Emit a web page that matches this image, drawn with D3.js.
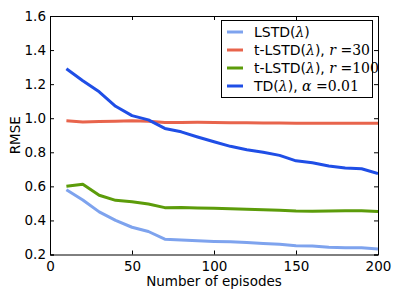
<!DOCTYPE html>
<html>
<head>
<meta charset="utf-8">
<script src="https://cdn.jsdelivr.net/npm/d3@7"></script>
<style>
body { margin: 0; background: #fff; }
text { font-family: "DejaVu Sans", sans-serif; }
</style>
</head>
<body>
<div class="chart"></div>
<script>
const episodes = [10,20,30,40,50,60,70,80,90,100,110,120,130,140,150,160,170,180,190,200]

const lstd = [0.58,0.52,0.45,0.40,0.36,0.335,0.29,0.285,0.28,0.277,0.275,0.27,0.265,0.26,0.252,0.25,0.242,0.24,0.24,0.232]
const tlstd30 = [0.985,0.978,0.98,0.982,0.985,0.982,0.975,0.975,0.976,0.975,0.974,0.973,0.972,0.972,0.971,0.971,0.97,0.97,0.97,0.97]
const tlstd100 = [0.60,0.612,0.548,0.518,0.51,0.496,0.475,0.476,0.473,0.472,0.468,0.466,0.462,0.46,0.455,0.454,0.456,0.457,0.457,0.453]
const td = [1.29,1.22,1.155,1.07,1.015,0.99,0.94,0.92,0.89,0.862,0.835,0.815,0.8,0.782,0.75,0.738,0.72,0.708,0.703,0.675]

const xTicks = [0,50,100,150,200]
const yTicks = [0.2,0.4,0.6,0.8,1.0,1.2,1.4,1.6]

// legend label pieces: [text, isMath]
const series = [
  {label: [["LSTD(", 0], ["λ", 1], [")", 0]], values: lstd, color: "#7ea3ee"},
  {label: [["t-LSTD(", 0], ["λ", 1], ["), ", 0], ["r", 1], [" =30", 2]], values: tlstd30, color: "#e8644c"},
  {label: [["t-LSTD(", 0], ["λ", 1], ["), ", 0], ["r", 1], [" =100", 2]], values: tlstd100, color: "#5c9c0a"},
  {label: [["TD(", 0], ["λ", 1], ["), ", 0], ["α", 1], [" =0.01", 2]], values: td, color: "#1f4ee6"}
]

let width = 399, height = 299
let margin = {left: 50, right: 21, top: 16, bottom: 44.5}

let svg = d3.select(".chart").append("svg")
.attr("width", width)
.attr("height", height)

let x = d3.scaleLinear().domain([0, 200]).range([margin.left, width - margin.right])
let y = d3.scaleLinear().domain([0.2, 1.6]).range([height - margin.bottom, margin.top])

// lines
let line = d3.line()
.x((d, i) => x(episodes[i]))
.y(d => y(d))

svg.append("defs").append("clipPath").attr("id", "clip")
.append("rect")
.attr("x", x(0)).attr("y", y(1.6))
.attr("width", x(200) - x(0)).attr("height", y(0.2) - y(1.6))

svg.append("g").attr("clip-path", "url(#clip)")
.selectAll("path")
.data(series)
.enter()
.append("path")
.attr("d", d => line(d.values))
.attr("fill", "none")
.attr("stroke", d => d.color)
.attr("stroke-width", 3)
.attr("stroke-linejoin", "round")

// axes with inward ticks on all sides
let tickLen = 4
svg.append("g")
.attr("transform", `translate(0,${y(0.2)})`)
.call(d3.axisBottom(x).tickValues(xTicks).tickSize(-tickLen).tickPadding(7).tickFormat(d3.format("d")))
svg.append("g")
.attr("transform", `translate(0,${y(1.6)})`)
.call(d3.axisTop(x).tickValues(xTicks).tickSize(-tickLen).tickFormat(""))
svg.append("g")
.attr("transform", `translate(${x(0)},0)`)
.call(d3.axisLeft(y).tickValues(yTicks).tickSize(-tickLen).tickPadding(4).tickFormat(d3.format(".1f")))
svg.append("g")
.attr("transform", `translate(${x(200)},0)`)
.call(d3.axisRight(y).tickValues(yTicks).tickSize(-tickLen).tickFormat(""))

svg.selectAll(".domain").attr("stroke", "#000").attr("stroke-width", 1)
svg.selectAll(".tick line").attr("stroke", "#000")
svg.selectAll(".tick text")
.attr("fill", "#000")
.style("font-size", "13.5px")
.style("font-family", "DejaVu Sans")

// axis labels
svg.append("text")
.attr("x", (x(0) + x(200)) / 2)
.attr("y", 286)
.attr("text-anchor", "middle")
.style("font-size", "13.5px")
.text("Number of episodes")

svg.append("text")
.attr("transform", `translate(20,${(y(0.2) + y(1.6)) / 2}) rotate(-90)`)
.attr("text-anchor", "middle")
.style("font-size", "13.5px")
.text("RMSE")

// legend
let legend = svg.append("g")
legend.append("rect")
.attr("x", 221.5).attr("y", 20.5)
.attr("width", 151).attr("height", 77)
.attr("fill", "#fff")
.attr("stroke", "#000")
.attr("stroke-width", 1)

series.forEach((s, i) => {
  let ly = 32 + i * 18
  legend.append("line")
  .attr("x1", 227).attr("x2", 243)
  .attr("y1", ly).attr("y2", ly)
  .attr("stroke", s.color)
  .attr("stroke-width", 3)
  let t = legend.append("text")
  .attr("x", 254).attr("y", ly + 5)
  .style("font-size", "14px")
  s.label.forEach(p => {
    let ts = t.append("tspan").text(p[0])
    if (p[1] == 1) ts.style("font-style", "italic").style("font-family", "DejaVu Serif")
    if (p[1] == 2) ts.style("font-family", "DejaVu Serif")
  })
})
</script>
</body>
</html>
